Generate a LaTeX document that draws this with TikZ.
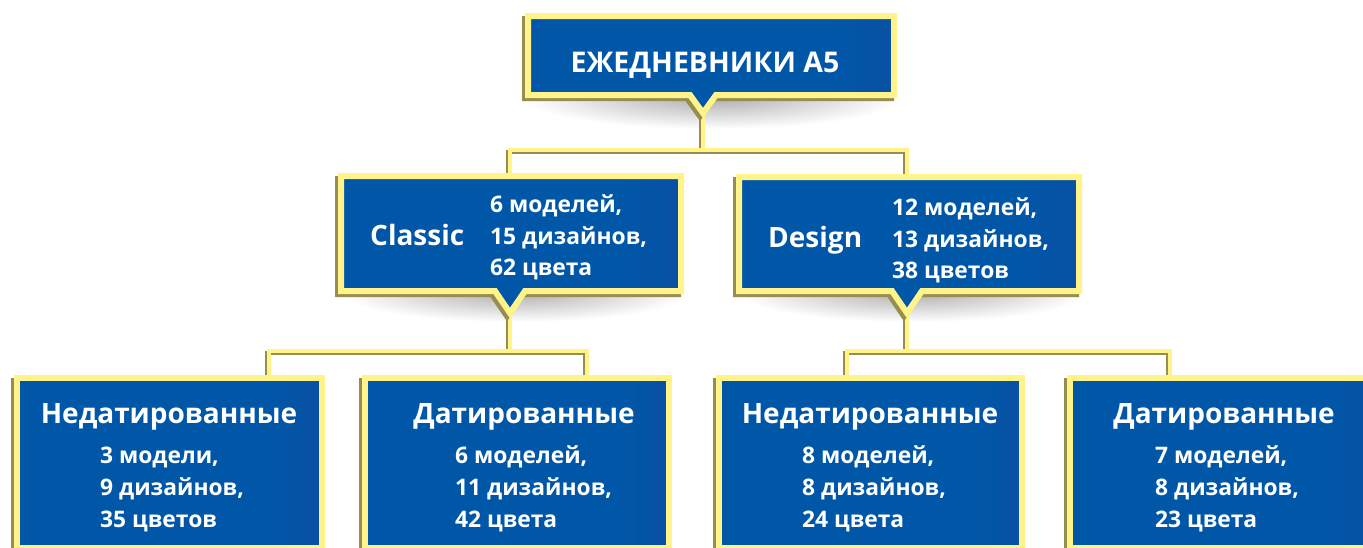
\documentclass[tikz,border=0pt]{standalone}
\usepackage{fontspec}
\setmainfont{Open Sans}
\definecolor{yel}{HTML}{FFF38A}
\definecolor{olv}{HTML}{978D4F}
\definecolor{bL}{HTML}{0057A8}
\definecolor{bR}{HTML}{213E96}
\pgfdeclarehorizontalshading{boxshade}{100bp}{color(0bp)=(bL); color(66bp)=(bL); color(100bp)=(bR)}
\tikzset{
  frameline/.style={line width=6pt, line join=miter, miter limit=10},
  boxfill/.style={frameline, draw=yel, shading=boxshade},
  boxshadow/.style={frameline, draw=olv, transform canvas={shift={(-3pt,-3pt)}}},
  softshadow/.style={inner color=black!32, outer color=white, draw=none},
  connshadow/.style={draw=olv, line width=4pt, line join=miter, transform canvas={shift={(-2pt,-2pt)}}},
  conn/.style={draw=yel, line width=4pt, line join=miter},
  ttl/.style={text=white, inner sep=0pt, font=\bfseries\fontsize{28.5}{31}\selectfont},
  hd/.style={text=white, inner sep=0pt, font=\bfseries\fontsize{28}{30}\selectfont},
  ln/.style={text=white, inner sep=0pt, anchor=base west, font=\bfseries\fontsize{22.8}{24}\selectfont},
}
\begin{document}
\begin{tikzpicture}[x=1pt,y=-1pt]
\useasboundingbox (0,0) rectangle (1363,547);
\clip (0,0) rectangle (1363,547);
\fill[white] (0,0) rectangle (1363,547);

% soft shadows under the pointer boxes
\shade[softshadow] (712,97) ellipse [x radius=190, y radius=32];
\shade[softshadow] (515,292) ellipse [x radius=175, y radius=30];
\shade[softshadow] (912,292) ellipse [x radius=175, y radius=30];

% connector points
\coordinate (t0) at (703,112);
\coordinate (j0) at (703,149.5);
\coordinate (cA) at (510,180);
\coordinate (cB) at (907,180);
\coordinate (tA) at (510,310);
\coordinate (jA) at (510,350.5);
\coordinate (b1) at (269,382);
\coordinate (b2) at (587,382);
\coordinate (tB) at (907,310);
\coordinate (jB) at (907,350.5);
\coordinate (b3) at (847,382);
\coordinate (b4) at (1170,382);

% connectors
\draw[connshadow] (t0) -- (j0);
\draw[connshadow] (cA) |- (j0) -| (cB);
\draw[connshadow] (tA) -- (jA);
\draw[connshadow] (b1) |- (jA) -| (b2);
\draw[connshadow] (tB) -- (jB);
\draw[connshadow] (b3) |- (jB) -| (b4);
\draw[conn] (t0) -- (j0);
\draw[conn] (cA) |- (j0) -| (cB);
\draw[conn] (tA) -- (jA);
\draw[conn] (b1) |- (jA) -| (b2);
\draw[conn] (tB) -- (jB);
\draw[conn] (b3) |- (jB) -| (b4);

% top box
\draw[boxshadow] (528,16) -- (894,16) -- (894,95) -- (716,95) -- (703,113) -- (690,95) -- (528,95) -- cycle;
\shade[boxfill] (528,16) -- (894,16) -- (894,95) -- (716,95) -- (703,113) -- (690,95) -- (528,95) -- cycle;
% Classic box
\draw[boxshadow] (341,176) -- (681,176) -- (681,291) -- (525,291) -- (510,313) -- (495,291) -- (341,291) -- cycle;
\shade[boxfill] (341,176) -- (681,176) -- (681,291) -- (525,291) -- (510,313) -- (495,291) -- (341,291) -- cycle;
% Design box
\draw[boxshadow] (739,177) -- (1079,177) -- (1079,291) -- (922,291) -- (907,313) -- (892,291) -- (739,291) -- cycle;
\shade[boxfill] (739,177) -- (1079,177) -- (1079,291) -- (922,291) -- (907,313) -- (892,291) -- (739,291) -- cycle;
% bottom boxes
\draw[boxshadow] (17,378) rectangle (322,548);
\shade[boxfill] (17,378) rectangle (322,548);
\draw[boxshadow] (365,378) rectangle (669,548);
\shade[boxfill] (365,378) rectangle (669,548);
\draw[boxshadow] (719,378) rectangle (1022,548);
\shade[boxfill] (719,378) rectangle (1022,548);
\draw[boxshadow] (1070,378) rectangle (1380,548);
\shade[boxfill] (1070,378) rectangle (1380,548);

% texts
\node[ttl, anchor=base] (title) at (705,72) {ЕЖЕДНЕВНИКИ А5};

\node[hd, anchor=base west] (cl) at (370,245) {Classic};
\node[ln] (cl1) at (490,212) {6 моделей,};
\node[ln] (cl2) at (490,244) {15 дизайнов,};
\node[ln] (cl3) at (490,275) {62 цвета};

\node[hd, anchor=base west] (ds) at (768,247) {Design};
\node[ln] (ds1) at (892,215) {12 моделей,};
\node[ln] (ds2) at (892,247) {13 дизайнов,};
\node[ln] (ds3) at (892,278) {38 цветов};

\node[hd, anchor=base] (n1) at (169,423) {Недатированные};
\node[ln] (n1a) at (100,463) {3 модели,};
\node[ln] (n1b) at (100,495) {9 дизайнов,};
\node[ln] (n1c) at (100,527) {35 цветов};

\node[hd, anchor=base] (d1) at (524,423) {Датированные};
\node[ln] (d1a) at (455,463) {6 моделей,};
\node[ln] (d1b) at (455,495) {11 дизайнов,};
\node[ln] (d1c) at (455,527) {42 цвета};

\node[hd, anchor=base] (n2) at (870,423) {Недатированные};
\node[ln] (n2a) at (802,463) {8 моделей,};
\node[ln] (n2b) at (802,495) {8 дизайнов,};
\node[ln] (n2c) at (802,527) {24 цвета};

\node[hd, anchor=base] (d2) at (1224,423) {Датированные};
\node[ln] (d2a) at (1155,463) {7 моделей,};
\node[ln] (d2b) at (1155,495) {8 дизайнов,};
\node[ln] (d2c) at (1155,527) {23 цвета};
\end{tikzpicture}
\end{document}
